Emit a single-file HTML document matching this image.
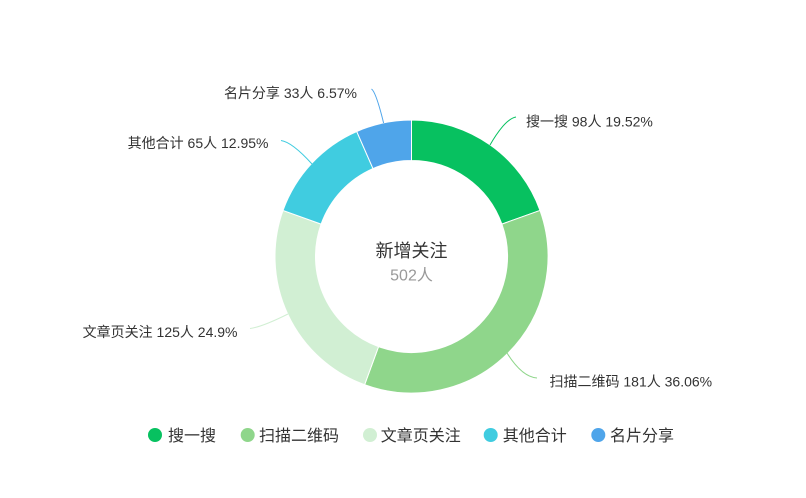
<!DOCTYPE html>
<html>
<head>
<meta charset="utf-8">
<style>
  html, body { margin: 0; padding: 0; background: #ffffff; }
  body { width: 806px; height: 498px; overflow: hidden; }
  svg { display: block; font-family: "Liberation Sans", "Noto Sans CJK SC", sans-serif; }
</style>
</head>
<body>
<svg width="806" height="498" viewBox="0 0 806 498" xmlns="http://www.w3.org/2000/svg">
  <rect width="806" height="498" fill="#ffffff"/>

  <!-- donut segments -->
  <g stroke="#ffffff" stroke-width="1" stroke-linejoin="round">
    <path fill="#07c160" d="M411.5,120 A136.5,136.5 0 0 1 540,210.44 L501.87,224.10 A96,96 0 0 0 411.5,160.5 Z"/>
    <path fill="#8fd68b" d="M540,210.44 A136.5,136.5 0 0 1 364.63,384.70 L378.54,346.66 A96,96 0 0 0 501.87,224.10 Z"/>
    <path fill="#d1efd3" d="M364.63,384.70 A136.5,136.5 0 0 1 283,210.44 L321.13,224.10 A96,96 0 0 0 378.54,346.66 Z"/>
    <path fill="#40cce0" d="M283,210.44 A136.5,136.5 0 0 1 356.71,131.48 L372.97,168.57 A96,96 0 0 0 321.13,224.10 Z"/>
    <path fill="#4fa5ea" d="M356.71,131.48 A136.5,136.5 0 0 1 411.5,120 L411.5,160.5 A96,96 0 0 0 372.97,168.57 Z"/>
  </g>

  <!-- label lines -->
  <g fill="none" stroke-width="1">
    <path stroke="#07c160" d="M490,145 Q505,119 516,117"/>
    <path stroke="#8fd68b" d="M507,353 Q522,377 537,378"/>
    <path stroke="#d1efd3" d="M288,314 Q262,327 250,328.5"/>
    <path stroke="#40cce0" d="M312,164 Q292,142 281,140.5"/>
    <path stroke="#4fa5ea" d="M383.6,123 Q376,92 371.5,89"/>
  </g>

  <!-- labels -->
  <g font-size="14" fill="#333333">
    <text x="526" y="126.5">搜一搜 98人 19.52%</text>
    <text x="549.5" y="386.5">扫描二维码 181人 36.06%</text>
    <text x="237.5" y="337" text-anchor="end">文章页关注 125人 24.9%</text>
    <text x="268.5" y="148" text-anchor="end">其他合计 65人 12.95%</text>
    <text x="357" y="98" text-anchor="end">名片分享 33人 6.57%</text>
  </g>

  <!-- center text -->
  <text x="411.5" y="257" font-size="18" fill="#333333" text-anchor="middle">新增关注</text>
  <text x="411.5" y="280.5" font-size="16" fill="#999999" text-anchor="middle">502人</text>

  <!-- legend -->
  <g>
    <circle cx="155" cy="435" r="7" fill="#07c160"/>
    <circle cx="247.7" cy="435" r="7" fill="#8fd68b"/>
    <circle cx="370" cy="435" r="7" fill="#d1efd3"/>
    <circle cx="490.7" cy="435" r="7" fill="#40cce0"/>
    <circle cx="598.3" cy="435" r="7" fill="#4fa5ea"/>
  </g>
  <g font-size="16" fill="#333333">
    <text x="168" y="441">搜一搜</text>
    <text x="259" y="441">扫描二维码</text>
    <text x="380.7" y="441">文章页关注</text>
    <text x="502.7" y="441">其他合计</text>
    <text x="610" y="441">名片分享</text>
  </g>
</svg>
</body>
</html>
